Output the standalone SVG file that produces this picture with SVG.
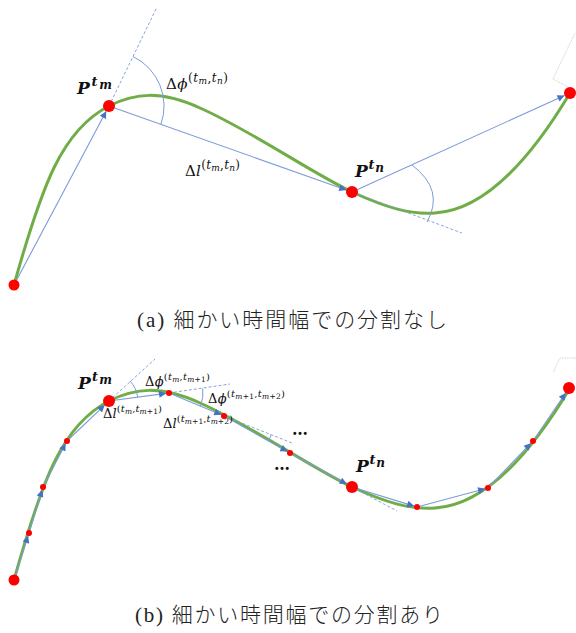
<svg xmlns="http://www.w3.org/2000/svg" xmlns:xlink="http://www.w3.org/1999/xlink" width="576" height="633" viewBox="0 0 576 633">
<style>
.curve{fill:none;stroke:#70AD47;stroke-width:3;stroke-linecap:round}
.vec{fill:none;stroke:#7C9BD6;stroke-width:1.1;marker-end:url(#ah)}
.dash{fill:none;stroke:#7C9BD6;stroke-width:0.9;stroke-dasharray:3 2}
.arc{fill:none;stroke:#7C9BD6;stroke-width:1}
.grey{fill:none;stroke:#c8c8c8;stroke-width:0.8;stroke-dasharray:1.5 1}
.pt{fill:#FF0000}
.m{font-family:"DejaVu Serif","Liberation Serif",serif;fill:#111}
.P{font-family:"DejaVu Serif","Liberation Serif",serif;font-weight:bold;font-style:italic;fill:#111}
.i{font-style:italic}
.cap{font-family:"Liberation Serif","Noto Sans CJK JP",serif;fill:#222;font-size:21px}
.jp{font-family:"Noto Sans CJK JP","Noto Sans CJK SC",sans-serif;font-weight:300}
.dots{font-family:"DejaVu Serif",serif;font-weight:bold;font-size:16px;fill:#111}
</style>
<defs>
<marker id="ah" viewBox="0 0 10 10" refX="10" refY="5" markerWidth="9" markerHeight="7" markerUnits="userSpaceOnUse" orient="auto"><path d="M0,0 L10,5 L0,10 z" fill="#4472C4"/></marker>
<path id="trajectory" d="M14,285 C42,185 62,130 109,106 C135,93 160,90 200,108 C250,130 310,172 352,192 C385,207 410,215 435,213 C485,210 530,160 570,93"/>
</defs>

<!-- ===== Panel (a) ===== -->
<g id="panel-a">
  <use xlink:href="#trajectory" href="#trajectory" class="curve"/>
  <polyline class="grey" points="575,33 553,79 568,87"/>
  <g id="a-connectors">
    <line class="dash" x1="109" y1="106" x2="157" y2="7"/>
    <line class="dash" x1="352" y1="192" x2="462" y2="233"/>
    <path class="arc" d="M133,56.5 A55 55 0 0 1 160.9,124.4"/>
    <path class="arc" d="M412,165 Q445,190 427,222"/>
    <line class="vec" x1="14" y1="285" x2="106.2" y2="111.3"/>
    <line class="vec" x1="109" y1="106" x2="346.3" y2="190"/>
    <line class="vec" x1="352" y1="192" x2="564.5" y2="95.5"/>
  </g>
  <g id="a-start"><circle class="pt" cx="14" cy="285" r="5.5"/></g>
  <g id="a-Ptm"><circle class="pt" cx="109" cy="106" r="6"/>
    <text class="P" x="77" y="94" font-size="17" textLength="35" lengthAdjust="spacing">P<tspan font-size="13" dy="-8">t</tspan><tspan font-size="12" dy="3">m</tspan></text></g>
  <g id="a-Ptn"><circle class="pt" cx="352" cy="192" r="6"/>
    <text class="P" x="355" y="177" font-size="17" textLength="29" lengthAdjust="spacing">P<tspan font-size="13" dy="-8">t</tspan><tspan font-size="12" dy="3">n</tspan></text></g>
  <g id="a-end"><circle class="pt" cx="570" cy="93" r="6"/></g>
  <text class="m" x="166" y="89" font-size="15" textLength="62" lengthAdjust="spacing">Δ<tspan class="i">ϕ</tspan><tspan font-size="12" dy="-7">(</tspan><tspan class="i" font-size="12">t</tspan><tspan class="i" font-size="9" dy="2">m</tspan><tspan font-size="12" dy="-2">,</tspan><tspan class="i" font-size="12">t</tspan><tspan class="i" font-size="9" dy="2">n</tspan><tspan font-size="12" dy="-2">)</tspan></text>
  <text class="m" x="185" y="176" font-size="15" textLength="55" lengthAdjust="spacing">Δ<tspan class="i">l</tspan><tspan font-size="12" dy="-7">(</tspan><tspan class="i" font-size="12">t</tspan><tspan class="i" font-size="9" dy="2">m</tspan><tspan font-size="12" dy="-2">,</tspan><tspan class="i" font-size="12">t</tspan><tspan class="i" font-size="9" dy="2">n</tspan><tspan font-size="12" dy="-2">)</tspan></text>
  <text class="cap" x="137" y="327" textLength="310" lengthAdjust="spacing">(a) <tspan class="jp">細かい時間幅での分割なし</tspan></text>
</g>

<!-- ===== Panel (b) ===== -->
<g id="panel-b">
  <use xlink:href="#trajectory" href="#trajectory" class="curve" transform="translate(0,295)"/>
  <polyline class="grey" points="576,358 560,358 553,373"/>
  <g id="b-connectors">
    <line class="dash" x1="109" y1="401" x2="155" y2="359"/>
    <line class="dash" x1="169" y1="393" x2="230" y2="384"/>
    <line class="dash" x1="224" y1="416" x2="292" y2="443"/>
    <line class="dash" x1="352" y1="487" x2="397" y2="511"/>
    <path class="arc" d="M130,381 A29 29 0 0 1 137.7,397.2"/>
    <path class="arc" d="M202.7,388.5 A34 34 0 0 1 200.4,406.1"/>
    <path class="arc" d="M271,435 A51 51 0 0 1 268.5,441"/>
    <line class="vec" x1="14" y1="580" x2="28.1" y2="535.9"/>
    <line class="vec" x1="29" y1="533" x2="42.1" y2="489.9"/>
    <line class="vec" x1="43" y1="487" x2="65.6" y2="443.7"/>
    <line class="vec" x1="67" y1="441" x2="104.7" y2="405.1"/>
    <line class="vec" x1="109" y1="401" x2="166" y2="393.4"/>
    <line class="vec" x1="169" y1="393" x2="221.2" y2="414.8"/>
    <line class="vec" x1="224" y1="416" x2="287.4" y2="451.5"/>
    <line class="vec" x1="290" y1="453" x2="346.7" y2="484.1"/>
    <line class="vec" x1="352" y1="487" x2="414.1" y2="506.1"/>
    <line class="vec" x1="417" y1="507" x2="485.1" y2="488.8"/>
    <line class="vec" x1="488" y1="488" x2="530.9" y2="443.2"/>
    <line class="vec" x1="533" y1="441" x2="565.6" y2="393"/>
  </g>
  <g id="b-start"><circle class="pt" cx="14" cy="580" r="5.5"/></g>
  <g id="b-p1"><circle class="pt" cx="29" cy="533" r="3"/></g>
  <g id="b-p2"><circle class="pt" cx="43" cy="487" r="3"/></g>
  <g id="b-p3"><circle class="pt" cx="67" cy="441" r="3"/></g>
  <g id="b-Ptm"><circle class="pt" cx="109" cy="401" r="6"/>
    <text class="P" x="78" y="389" font-size="17" textLength="34" lengthAdjust="spacing">P<tspan font-size="13" dy="-8">t</tspan><tspan font-size="12" dy="3">m</tspan></text></g>
  <g id="b-p5"><circle class="pt" cx="169" cy="393" r="3"/></g>
  <g id="b-p6"><circle class="pt" cx="224" cy="416" r="3"/></g>
  <g id="b-p7"><circle class="pt" cx="290" cy="453" r="3"/></g>
  <g id="b-Ptn"><circle class="pt" cx="352" cy="487" r="6"/>
    <text class="P" x="356" y="472" font-size="17" textLength="29" lengthAdjust="spacing">P<tspan font-size="13" dy="-8">t</tspan><tspan font-size="12" dy="3">n</tspan></text></g>
  <g id="b-p9"><circle class="pt" cx="417" cy="507" r="3"/></g>
  <g id="b-p10"><circle class="pt" cx="488" cy="488" r="3"/></g>
  <g id="b-p11"><circle class="pt" cx="533" cy="441" r="3"/></g>
  <g id="b-end"><circle class="pt" cx="569" cy="388" r="6"/></g>
  <text class="m" x="145" y="386" font-size="13" textLength="65" lengthAdjust="spacing">Δ<tspan class="i">ϕ</tspan><tspan font-size="10" dy="-6">(</tspan><tspan class="i" font-size="10">t</tspan><tspan class="i" font-size="7.5" dy="1.5">m</tspan><tspan font-size="10" dy="-1.5">,</tspan><tspan class="i" font-size="10">t</tspan><tspan class="i" font-size="7.5" dy="1.5">m</tspan><tspan font-size="7.5">+1</tspan><tspan font-size="10" dy="-1.5">)</tspan></text>
  <text class="m" x="103" y="418" font-size="13" textLength="59" lengthAdjust="spacing">Δ<tspan class="i">l</tspan><tspan font-size="10" dy="-6">(</tspan><tspan class="i" font-size="10">t</tspan><tspan class="i" font-size="7.5" dy="1.5">m</tspan><tspan font-size="10" dy="-1.5">,</tspan><tspan class="i" font-size="10">t</tspan><tspan class="i" font-size="7.5" dy="1.5">m</tspan><tspan font-size="7.5">+1</tspan><tspan font-size="10" dy="-1.5">)</tspan></text>
  <text class="m" x="208" y="403" font-size="13" textLength="77" lengthAdjust="spacing">Δ<tspan class="i">ϕ</tspan><tspan font-size="10" dy="-6">(</tspan><tspan class="i" font-size="10">t</tspan><tspan class="i" font-size="7.5" dy="1.5">m</tspan><tspan font-size="7.5">+1</tspan><tspan font-size="10" dy="-1.5">,</tspan><tspan class="i" font-size="10">t</tspan><tspan class="i" font-size="7.5" dy="1.5">m</tspan><tspan font-size="7.5">+2</tspan><tspan font-size="10" dy="-1.5">)</tspan></text>
  <text class="m" x="163" y="428" font-size="13" textLength="70" lengthAdjust="spacing">Δ<tspan class="i">l</tspan><tspan font-size="10" dy="-6">(</tspan><tspan class="i" font-size="10">t</tspan><tspan class="i" font-size="7.5" dy="1.5">m</tspan><tspan font-size="7.5">+1</tspan><tspan font-size="10" dy="-1.5">,</tspan><tspan class="i" font-size="10">t</tspan><tspan class="i" font-size="7.5" dy="1.5">m</tspan><tspan font-size="7.5">+2</tspan><tspan font-size="10" dy="-1.5">)</tspan></text>
  <text class="dots" x="292" y="435">…</text>
  <text class="dots" x="274" y="470">…</text>
  <text class="cap" x="135" y="622" textLength="308" lengthAdjust="spacing">(b) <tspan class="jp">細かい時間幅での分割あり</tspan></text>
</g>
</svg>
